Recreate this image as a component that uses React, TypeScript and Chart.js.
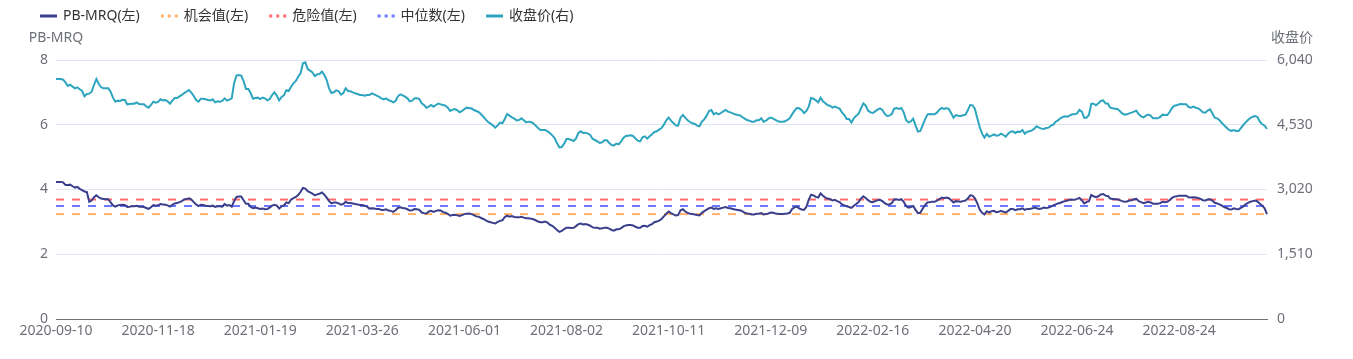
import React, { useEffect, useRef } from 'react';
import { Chart, registerables } from 'chart.js';

Chart.register(...registerables);

const FONT = '"Noto Sans", "Noto Sans CJK SC", sans-serif';
const AXIS_COLOR = '#6E7079';

const START_DATE = '2020-09-10';
const HOLIDAYS = [
  '2020-10-01', '2020-10-02', '2020-10-05', '2020-10-06', '2020-10-07', '2020-10-08',
  '2021-01-01', '2021-02-11', '2021-02-12', '2021-02-15', '2021-02-16', '2021-02-17',
  '2021-04-05', '2021-05-03', '2021-05-04', '2021-05-05', '2021-06-14', '2021-09-20',
  '2021-09-21', '2021-10-01', '2021-10-04', '2021-10-05', '2021-10-06', '2021-10-07',
  '2022-01-03', '2022-01-31', '2022-02-01', '2022-02-02', '2022-02-03', '2022-02-04',
  '2022-04-04', '2022-04-05', '2022-05-02', '2022-05-03', '2022-05-04', '2022-06-03',
  '2022-09-12', '2022-10-03', '2022-10-04', '2022-10-05', '2022-10-06', '2022-10-07',
];

const TICK_LABELS = [
  '2020-09-10', '2020-11-18', '2021-01-19', '2021-03-26', '2021-06-01', '2021-08-02',
  '2021-10-11', '2021-12-09', '2022-02-16', '2022-04-20', '2022-06-24', '2022-08-24',
];

const PB_MRQ = [
  4.23, 4.23, 4.23, 4.22, 4.14, 4.14, 4.15, 4.10, 4.06, 4.08,
  4.02, 3.98, 3.94, 3.92, 3.62, 3.66, 3.76, 3.82, 3.76, 3.72,
  3.71, 3.70, 3.70, 3.60, 3.51, 3.47, 3.51, 3.52, 3.53, 3.52,
  3.46, 3.47, 3.49, 3.48, 3.50, 3.47, 3.47, 3.46, 3.43, 3.40,
  3.45, 3.52, 3.50, 3.51, 3.55, 3.54, 3.53, 3.51, 3.47, 3.53,
  3.57, 3.58, 3.61, 3.64, 3.69, 3.71, 3.73, 3.69, 3.61, 3.54,
  3.49, 3.53, 3.52, 3.50, 3.49, 3.48, 3.50, 3.46, 3.48, 3.48,
  3.47, 3.55, 3.50, 3.52, 3.47, 3.64, 3.77, 3.78, 3.78, 3.67,
  3.56, 3.56, 3.46, 3.42, 3.44, 3.42, 3.40, 3.41, 3.39, 3.40,
  3.44, 3.50, 3.53, 3.50, 3.41, 3.48, 3.51, 3.60, 3.58, 3.69,
  3.73, 3.77, 3.83, 3.93, 4.05, 4.03, 3.95, 3.91, 3.87, 3.82,
  3.85, 3.87, 3.91, 3.84, 3.75, 3.64, 3.57, 3.60, 3.60, 3.57,
  3.53, 3.55, 3.62, 3.58, 3.58, 3.57, 3.55, 3.54, 3.52, 3.52,
  3.50, 3.47, 3.41, 3.42, 3.41, 3.40, 3.40, 3.37, 3.37, 3.39,
  3.35, 3.34, 3.31, 3.36, 3.43, 3.45, 3.43, 3.42, 3.39, 3.35,
  3.36, 3.40, 3.39, 3.37, 3.29, 3.27, 3.26, 3.32, 3.34, 3.31,
  3.34, 3.36, 3.35, 3.30, 3.28, 3.25, 3.19, 3.21, 3.22, 3.20,
  3.18, 3.21, 3.24, 3.25, 3.26, 3.24, 3.21, 3.17, 3.16, 3.12,
  3.09, 3.05, 3.01, 2.99, 2.97, 2.95, 3.00, 3.03, 3.05, 3.15,
  3.19, 3.16, 3.18, 3.15, 3.14, 3.14, 3.16, 3.13, 3.11, 3.11,
  3.10, 3.08, 3.05, 3.01, 2.99, 2.99, 3.01, 2.98, 2.91, 2.88,
  2.82, 2.75, 2.69, 2.72, 2.78, 2.82, 2.82, 2.81, 2.82, 2.87,
  2.93, 2.95, 2.92, 2.93, 2.91, 2.88, 2.83, 2.82, 2.82, 2.79,
  2.80, 2.82, 2.82, 2.79, 2.75, 2.73, 2.77, 2.77, 2.81, 2.86,
  2.89, 2.90, 2.90, 2.89, 2.85, 2.82, 2.82, 2.87, 2.88, 2.85,
  2.90, 2.93, 2.99, 3.01, 3.04, 3.09, 3.17, 3.25, 3.32, 3.27,
  3.23, 3.20, 3.21, 3.36, 3.39, 3.32, 3.28, 3.25, 3.24, 3.23,
  3.21, 3.20, 3.28, 3.33, 3.38, 3.42, 3.44, 3.40, 3.42, 3.40,
  3.42, 3.44, 3.46, 3.43, 3.42, 3.40, 3.38, 3.37, 3.36, 3.33,
  3.28, 3.26, 3.25, 3.23, 3.23, 3.25, 3.25, 3.27, 3.23, 3.24,
  3.26, 3.29, 3.28, 3.26, 3.25, 3.24, 3.24, 3.25, 3.26, 3.28,
  3.40, 3.45, 3.47, 3.42, 3.38, 3.37, 3.46, 3.68, 3.84, 3.82,
  3.77, 3.75, 3.88, 3.81, 3.75, 3.72, 3.70, 3.66, 3.68, 3.64,
  3.61, 3.54, 3.51, 3.48, 3.46, 3.43, 3.50, 3.55, 3.61, 3.72,
  3.79, 3.74, 3.67, 3.62, 3.61, 3.64, 3.67, 3.68, 3.64, 3.58,
  3.54, 3.54, 3.58, 3.69, 3.70, 3.68, 3.70, 3.62, 3.49, 3.44,
  3.46, 3.49, 3.37, 3.27, 3.28, 3.41, 3.52, 3.60, 3.61, 3.62,
  3.62, 3.66, 3.70, 3.75, 3.73, 3.75, 3.73, 3.67, 3.60, 3.64,
  3.63, 3.62, 3.64, 3.66, 3.72, 3.82, 3.81, 3.73, 3.57, 3.38,
  3.28, 3.23, 3.33, 3.29, 3.33, 3.34, 3.30, 3.31, 3.34, 3.31,
  3.29, 3.34, 3.40, 3.40, 3.36, 3.39, 3.39, 3.42, 3.37, 3.40,
  3.40, 3.41, 3.44, 3.42, 3.40, 3.41, 3.44, 3.43, 3.44, 3.47,
  3.51, 3.54, 3.57, 3.59, 3.62, 3.64, 3.66, 3.68, 3.68, 3.68,
  3.71, 3.74, 3.67, 3.57, 3.61, 3.64, 3.83, 3.79, 3.76, 3.79,
  3.85, 3.86, 3.81, 3.80, 3.72, 3.71, 3.70, 3.70, 3.67, 3.64,
  3.62, 3.63, 3.66, 3.67, 3.70, 3.71, 3.64, 3.61, 3.58, 3.60,
  3.62, 3.60, 3.56, 3.56, 3.56, 3.58, 3.62, 3.61, 3.62, 3.67,
  3.74, 3.78, 3.79, 3.81, 3.81, 3.81, 3.81, 3.76, 3.75, 3.76,
  3.75, 3.74, 3.71, 3.67, 3.66, 3.69, 3.70, 3.66, 3.59, 3.57,
  3.54, 3.50, 3.46, 3.43, 3.39, 3.38, 3.42, 3.40, 3.39, 3.43,
  3.48, 3.54, 3.59, 3.62, 3.64, 3.66, 3.63, 3.56, 3.50, 3.42, 3.24,
];

const CLOSE_PRICE = [
  5597, 5597, 5597, 5581, 5519, 5434, 5465, 5418, 5379, 5403,
  5356, 5317, 5193, 5247, 5255, 5301, 5457, 5597, 5480, 5403,
  5379, 5379, 5379, 5301, 5162, 5068, 5092, 5084, 5115, 5107,
  5006, 5014, 5022, 5022, 5053, 5014, 5006, 5006, 4959, 4928,
  4991, 5068, 5045, 5061, 5123, 5099, 5107, 5076, 5022, 5092,
  5154, 5154, 5193, 5224, 5270, 5301, 5340, 5278, 5200, 5107,
  5068, 5138, 5138, 5123, 5107, 5099, 5123, 5053, 5076, 5068,
  5084, 5146, 5092, 5115, 5146, 5496, 5675, 5690, 5675, 5550,
  5364, 5364, 5263, 5138, 5154, 5162, 5130, 5162, 5146, 5099,
  5130, 5224, 5286, 5208, 5099, 5177, 5216, 5333, 5317, 5418,
  5496, 5550, 5651, 5729, 5962, 5985, 5830, 5791, 5752, 5667,
  5706, 5713, 5768, 5690, 5574, 5379, 5270, 5286, 5332, 5317,
  5232, 5270, 5379, 5317, 5309, 5286, 5263, 5247, 5224, 5224,
  5208, 5224, 5224, 5263, 5239, 5208, 5185, 5146, 5123, 5146,
  5107, 5084, 5053, 5084, 5193, 5239, 5216, 5185, 5146, 5076,
  5092, 5146, 5146, 5130, 5029, 4991, 4928, 4952, 4991, 4952,
  4991, 5022, 5006, 4991, 4975, 4928, 4851, 4882, 4897, 4866,
  4819, 4851, 4897, 4928, 4913, 4913, 4874, 4851, 4827, 4773,
  4718, 4649, 4594, 4555, 4516, 4462, 4516, 4579, 4563, 4664,
  4781, 4742, 4703, 4672, 4633, 4641, 4679, 4633, 4586, 4602,
  4594, 4563, 4509, 4454, 4408, 4410, 4408, 4377, 4338, 4283,
  4221, 4097, 4003, 4011, 4089, 4198, 4198, 4174, 4151, 4213,
  4338, 4377, 4338, 4345, 4322, 4291, 4198, 4174, 4143, 4104,
  4120, 4167, 4167, 4104, 4058, 4050, 4089, 4073, 4143, 4229,
  4268, 4276, 4283, 4268, 4213, 4159, 4143, 4237, 4260, 4206,
  4260, 4306, 4361, 4377, 4415, 4454, 4532, 4633, 4695, 4625,
  4571, 4516, 4509, 4695, 4757, 4695, 4633, 4594, 4563, 4547,
  4509, 4493, 4602, 4656, 4742, 4851, 4874, 4773, 4804, 4773,
  4804, 4843, 4874, 4835, 4819, 4796, 4773, 4757, 4750, 4711,
  4672, 4641, 4625, 4602, 4602, 4633, 4633, 4680, 4602, 4625,
  4672, 4695, 4672, 4641, 4610, 4602, 4602, 4610, 4641, 4680,
  4773, 4858, 4921, 4913, 4874, 4804, 4851, 4952, 5154, 5138,
  5099, 5053, 5162, 5076, 5029, 4983, 4975, 4928, 4952, 4928,
  4905, 4819, 4757, 4664, 4664, 4579, 4680, 4742, 4788, 4913,
  5029, 4975, 4858, 4819, 4804, 4843, 4882, 4913, 4874, 4788,
  4734, 4742, 4781, 4905, 4921, 4897, 4921, 4819, 4641, 4586,
  4610, 4672, 4509, 4369, 4384, 4524, 4656, 4773, 4781, 4773,
  4773, 4812, 4882, 4921, 4897, 4921, 4897, 4796, 4695, 4757,
  4742, 4734, 4750, 4765, 4866, 4991, 4983, 4897, 4680, 4478,
  4322, 4229, 4315, 4252, 4276, 4306, 4276, 4283, 4322, 4291,
  4252, 4322, 4369, 4377, 4338, 4369, 4361, 4408, 4322, 4369,
  4377, 4400, 4439, 4493, 4462, 4439, 4431, 4454, 4462, 4509,
  4532, 4602, 4633, 4680, 4711, 4726, 4718, 4750, 4773, 4773,
  4796, 4874, 4835, 4695, 4695, 4757, 5022, 5022, 4983, 5029,
  5084, 5099, 5029, 5022, 4928, 4913, 4905, 4897, 4851, 4796,
  4765, 4773, 4796, 4812, 4835, 4858, 4773, 4726, 4703, 4742,
  4765, 4742, 4680, 4680, 4680, 4711, 4765, 4757, 4757, 4827,
  4921, 4975, 4983, 5006, 5014, 5006, 5006, 4944, 4928, 4952,
  4928, 4913, 4874, 4819, 4812, 4858, 4889, 4796, 4695, 4680,
  4633, 4571, 4516, 4462, 4408, 4384, 4408, 4384, 4384, 4454,
  4524, 4586, 4641, 4687, 4718, 4734, 4711, 4602, 4540, 4509, 4431,
];

const OPPORTUNITY_VALUE = 3.24;
const DANGER_VALUE = 3.69;
const MEDIAN_VALUE = 3.49;

const LEFT_MAX = 8;
const LEFT_STEP = 2;
const RIGHT_MAX = 6040;
const RIGHT_STEP = 1510;

function tradingDays(start: string, count: number, holidays: string[]): string[] {
  const out: string[] = [];
  const skip = new Set(holidays);
  const d = new Date(start + 'T00:00:00Z');
  while (out.length < count) {
    const iso = d.toISOString().slice(0, 10);
    const dow = d.getUTCDay();
    if (dow !== 0 && dow !== 6 && !skip.has(iso)) out.push(iso);
    d.setUTCDate(d.getUTCDate() + 1);
  }
  return out;
}

const DATES = tradingDays(START_DATE, PB_MRQ.length, HOLIDAYS);

const overlayPlugin = {
  id: 'overlay',
  afterDraw(chart: any) {
    const ctx = chart.ctx as CanvasRenderingContext2D;
    ctx.save();
    ctx.font = `14px ${FONT}`;
    ctx.textBaseline = 'middle';
    ctx.textAlign = 'left';
    let x = 40;
    const y = 16;
    chart.data.datasets.forEach((ds: any) => {
      ctx.strokeStyle = ds.borderColor;
      ctx.lineWidth = 3;
      ctx.lineCap = 'butt';
      ctx.setLineDash(ds.borderDash && ds.borderDash.length ? [3, 4] : []);
      ctx.beginPath();
      ctx.moveTo(x, y);
      ctx.lineTo(x + 17, y);
      ctx.stroke();
      ctx.setLineDash([]);
      ctx.fillStyle = '#333';
      ctx.fillText(ds.label, x + 23, y);
      x += 23 + ctx.measureText(ds.label).width + 21;
    });
    ctx.fillStyle = AXIS_COLOR;
    ctx.textAlign = 'center';
    ctx.fillText('PB-MRQ', chart.chartArea.left, 38);
    ctx.fillText('收盘价', chart.chartArea.right + 25, 38);
    ctx.restore();
  },
};

export default function App() {
  const ref = useRef<HTMLCanvasElement>(null);
  useEffect(() => {
    document.body.style.margin = '0';
    document.body.style.overflow = 'hidden';
    const first = DATES[0];
    const last = DATES[DATES.length - 1];
    const refLine = (label: string, value: number, color: string) => ({
      label,
      data: [{ x: first, y: value }, { x: last, y: value }],
      borderColor: color,
      backgroundColor: color,
      borderWidth: 2,
      borderDash: [8, 8],
      pointRadius: 0,
      yAxisID: 'y',
    });
    const chart = new Chart(ref.current as HTMLCanvasElement, {
      type: 'line',
      data: {
        labels: DATES,
        datasets: [
          {
            label: 'PB-MRQ(左)',
            data: PB_MRQ,
            borderColor: '#3a3f8c',
            backgroundColor: '#3a3f8c',
            borderWidth: 2,
            pointRadius: 0,
            yAxisID: 'y',
          },
          refLine('机会值(左)', OPPORTUNITY_VALUE, '#ffb36b'),
          refLine('危险值(左)', DANGER_VALUE, '#ff6b6b'),
          refLine('中位数(左)', MEDIAN_VALUE, '#6e78ff'),
          {
            label: '收盘价(右)',
            data: CLOSE_PRICE,
            borderColor: '#2ea5be',
            backgroundColor: '#2ea5be',
            borderWidth: 2,
            pointRadius: 0,
            yAxisID: 'y1',
          },
        ] as any,
      },
      options: {
        animation: false,
        responsive: false,
        layout: { padding: { top: 60, left: 0, right: 0, bottom: 0 } },
        plugins: { legend: { display: false }, tooltip: { enabled: false } },
        elements: { line: { tension: 0 }, point: { radius: 0 } },
        scales: {
          x: {
            type: 'category',
            grid: { display: false, drawTicks: false },
            border: { display: true, color: AXIS_COLOR, width: 1 },
            ticks: {
              autoSkip: false,
              maxRotation: 0,
              minRotation: 0,
              padding: 4,
              color: AXIS_COLOR,
              font: { size: 14, family: FONT },
              callback: (_v: any, i: number) => (TICK_LABELS.includes(DATES[i]) ? DATES[i] : ''),
            },
            afterFit: (s: any) => { s.height = 40; },
          },
          y: {
            position: 'left',
            min: 0,
            max: LEFT_MAX,
            ticks: { stepSize: LEFT_STEP, padding: 8, color: AXIS_COLOR, font: { size: 14, family: FONT } },
            grid: { color: '#E0E6F1', drawTicks: false },
            border: { display: false },
            afterFit: (s: any) => { s.width = 56; },
          },
          y1: {
            position: 'right',
            min: 0,
            max: RIGHT_MAX,
            ticks: {
              stepSize: RIGHT_STEP,
              padding: 10,
              color: AXIS_COLOR,
              font: { size: 14, family: FONT },
              callback: (v: any) => Number(v).toLocaleString('en-US'),
            },
            grid: { display: false, drawTicks: false },
            border: { display: false },
            afterFit: (s: any) => { s.width = 86; },
          },
        },
      } as any,
      plugins: [overlayPlugin],
    });
    return () => chart.destroy();
  }, []);
  return (
    <div style={{ width: 1353, height: 359 }}>
      <canvas ref={ref} width={1353} height={359} style={{ display: 'block' }} />
    </div>
  );
}
